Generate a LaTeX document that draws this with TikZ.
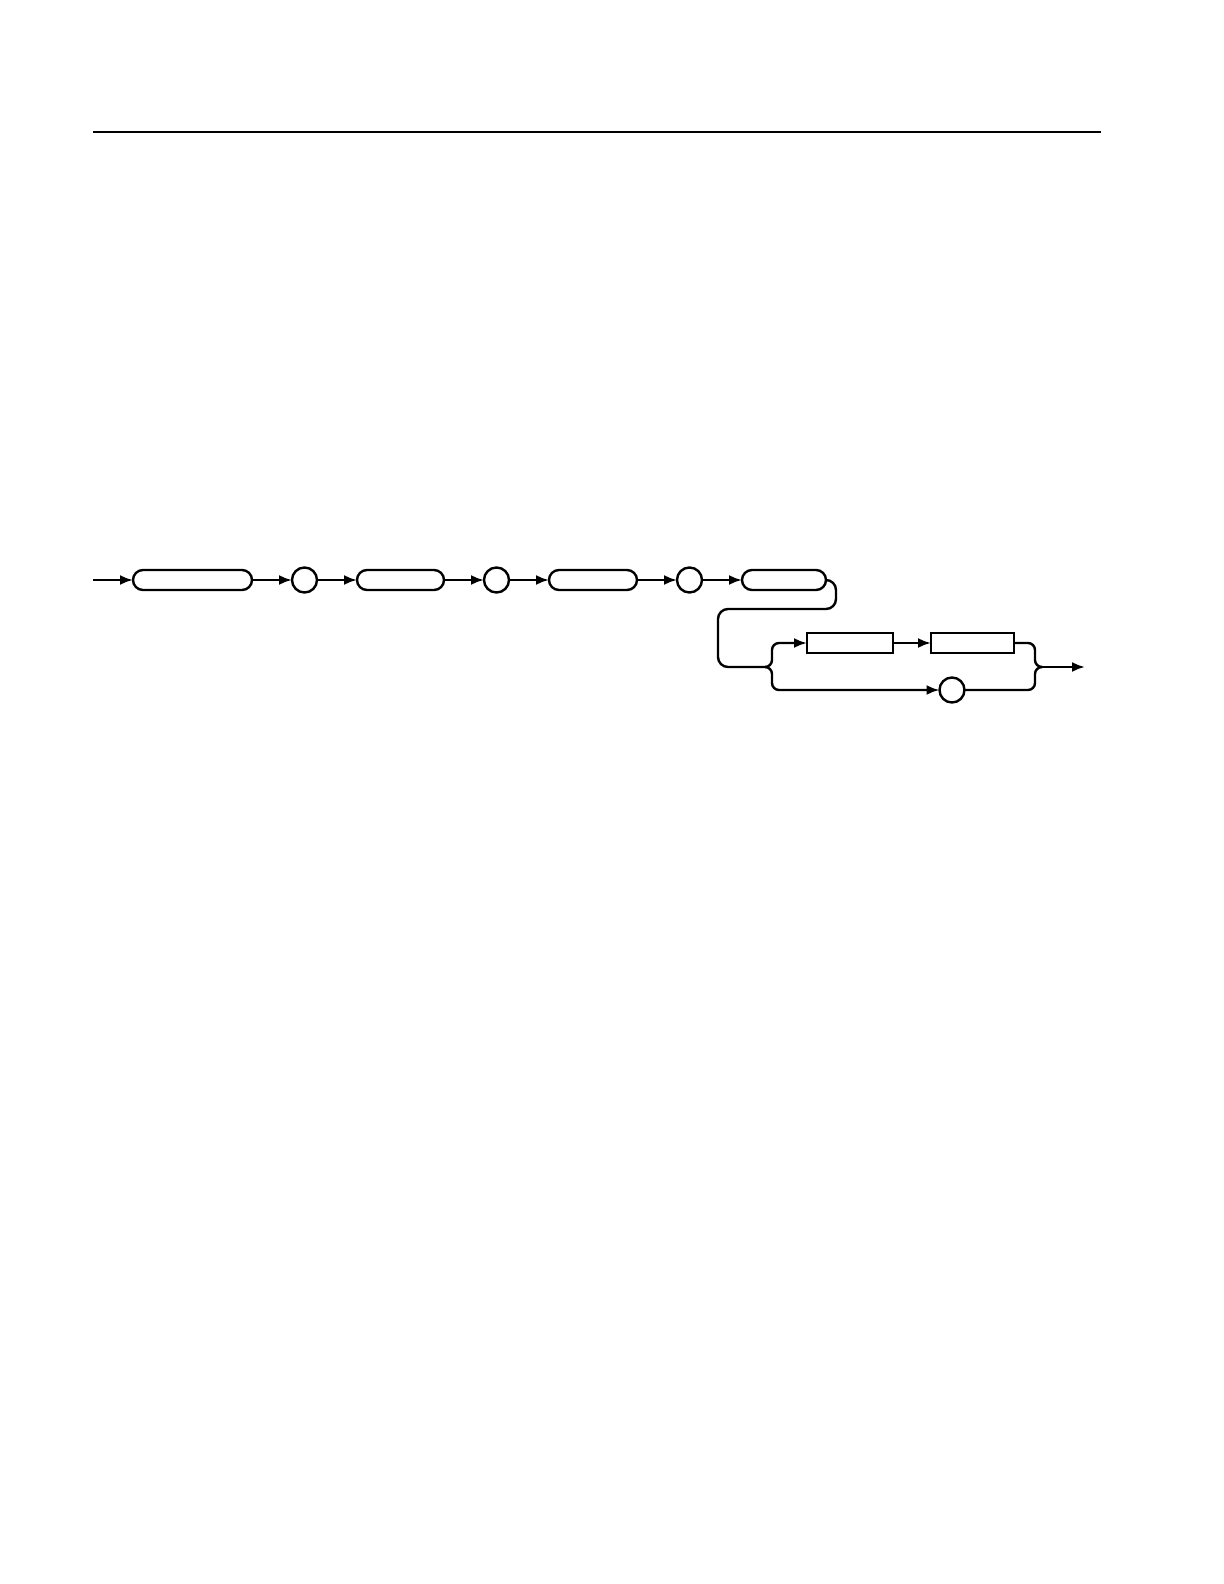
\documentclass[tikz,border=0pt]{standalone}
\usetikzlibrary{positioning,arrows.meta}
\usetikzlibrary{calc}

\begin{document}
\begin{tikzpicture}
  \newdimen\dist
  \dist=20pt

  \tikzstyle{pill} = [
    % The shape:
    rectangle, minimum height=0.5*\dist, rounded corners=0.25*\dist,
    inner sep=0pt, outer sep=0pt,
    % The border:
    very thick,
    draw=black
  ];
  \tikzstyle{field} = [
    % The shape:
    rectangle, minimum height=0.5*\dist,
    inner sep=0pt, outer sep=0pt,
    % The border:
    very thick,
    draw=black
  ];
  \tikzstyle{junction} = [
    % The shape:
    circle, minimum size=12.5pt,
    inner sep=0pt, outer sep=0pt,
    % The border:
    very thick,
    draw=black
  ];
  \tikzstyle{flow} = [
    draw = black,
    very thick,
    -{Latex[length=6.5pt,width=5pt]}
  ];
  \tikzstyle{joiningFlow} = [
    draw = black,
    very thick
  ];
  \tikzstyle{rule} = [
    draw = black,
    semithick
  ];

  \useasboundingbox (0,0) rectangle (612pt,-792pt);

  % Rule at the top of the page
  \coordinate (ruleStart) at (46.5pt,-66pt);
  \coordinate (ruleEnd) at (550.5pt,-66pt);
  \path [rule] (ruleStart) to (ruleEnd);

  \coordinate (entry) at (46.5pt,-290pt);

  \node [pill, minimum width=59.5pt, right = \dist of entry] (header) {};
  \node [junction, right = \dist of header] (sepA) {};
  \node [pill, minimum width=43.5pt, right = \dist of sepA] (fieldA) {};
  \node [junction, right = \dist of fieldA] (sepB) {};
  \node [pill, minimum width=44pt, right = \dist of sepB] (fieldB) {};
  \node [junction, right = \dist of fieldB] (sepC) {};
  \node [pill, minimum width=42pt, right = \dist of sepC] (fieldC) {};

  \coordinate (join) at (382.5pt,-333.5pt);
  \node [field, minimum width=43pt, above right = 7pt and 21pt of join] (unitA) {};
  \node [field, minimum width=41.5pt, right = 19pt of unitA] (unitB) {};
  \node [junction] (sepD) at ($(join)+(93.5pt,-11.5pt)$) {};
  \coordinate (split) at (521pt,-333.5pt);
  \coordinate (exit) at (542.5pt,-333.5pt);

  \path [flow] (entry) to (header);
  \path [flow] (header) to (sepA);
  \path [flow] (sepA) to (fieldA);
  \path [flow] (fieldA) to (sepB);
  \path [flow] (sepB) to (fieldB);
  \path [flow] (fieldB) to (sepC);
  \path [flow] (sepC) to (fieldC);

  \path [joiningFlow, rounded corners=5pt] (fieldC.east) -- ++(5pt,0)
                                           -- ++(0,-14.5pt)
                                           -| ($(join)+(-23.5pt,0)$)
                                           -- (join);

  \path [flow, rounded corners=3.5pt] (join) -- ++(3.5pt,0) |- (unitA.west);
  \path [flow] (unitA) to (unitB);
  \path [flow, rounded corners=3.5pt] (join) -- ++(3.5pt,0) |- (sepD.west);

  \path [joiningFlow, rounded corners=3.5pt] (unitB.east) -| ($(split)+(-3.5pt,0)$) -- (split);
  \path [joiningFlow, rounded corners=3.5pt] (sepD.east) -| ($(split)+(-3.5pt,0)$) -- (split);
  \path [flow] (split) to (exit);
\end{tikzpicture}
\end{document}
